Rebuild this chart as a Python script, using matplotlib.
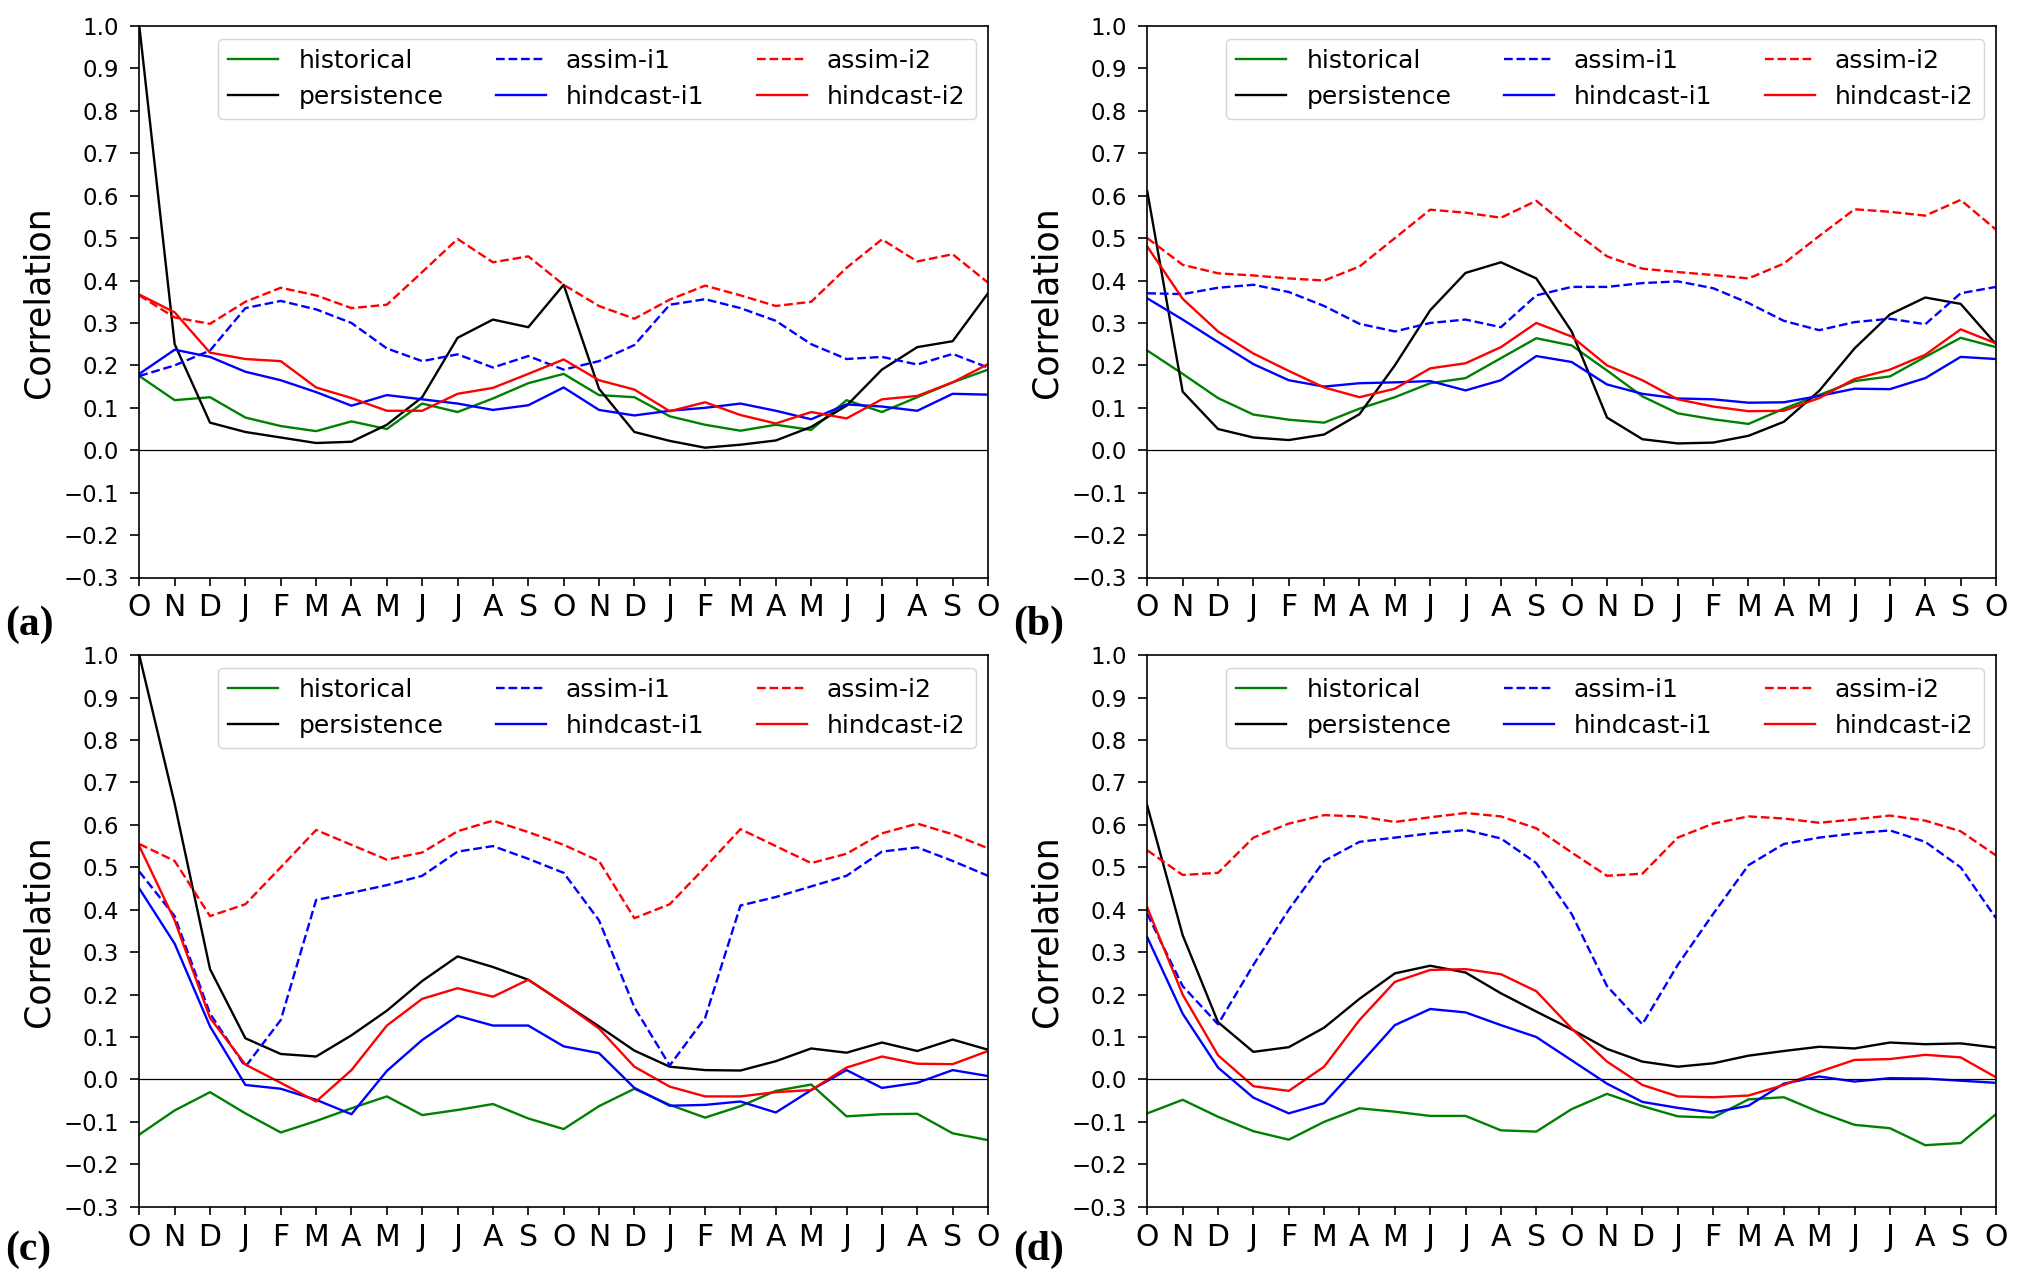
import matplotlib
matplotlib.use("Agg")
import matplotlib.pyplot as plt
import numpy as np

months = ["O", "N", "D", "J", "F", "M", "A", "M", "J", "J", "A", "S",
          "O", "N", "D", "J", "F", "M", "A", "M", "J", "J", "A", "S", "O"]
yticks = [-0.3, -0.2, -0.1, 0.0, 0.1, 0.2, 0.3, 0.4, 0.5, 0.6, 0.7, 0.8, 0.9, 1.0]
panel_labels = ["(a)", "(b)", "(c)", "(d)"]
series_names = ["historical", "persistence", "assim-i1", "hindcast-i1", "assim-i2", "hindcast-i2"]

# ---- panel (a)
a_historical = [0.175, 0.118, 0.125, 0.077, 0.057, 0.045, 0.068, 0.050, 0.110, 0.090, 0.122, 0.158, 0.180,
                0.130, 0.125, 0.080, 0.060, 0.046, 0.060, 0.048, 0.118, 0.090, 0.125, 0.160, 0.190]
a_persistence = [1.000, 0.250, 0.065, 0.043, 0.030, 0.017, 0.020, 0.060, 0.125, 0.265, 0.308, 0.290, 0.390,
                 0.145, 0.043, 0.022, 0.006, 0.013, 0.023, 0.055, 0.105, 0.190, 0.243, 0.257, 0.370]
a_assim_i1 = [0.175, 0.200, 0.235, 0.335, 0.352, 0.332, 0.300, 0.240, 0.210, 0.226, 0.195, 0.222, 0.190,
              0.210, 0.248, 0.343, 0.356, 0.335, 0.305, 0.250, 0.215, 0.220, 0.202, 0.227, 0.195]
a_hindcast_i1 = [0.180, 0.237, 0.220, 0.185, 0.165, 0.137, 0.105, 0.130, 0.120, 0.110, 0.095, 0.106, 0.148,
                 0.095, 0.082, 0.093, 0.100, 0.110, 0.093, 0.073, 0.108, 0.103, 0.093, 0.133, 0.131]
a_assim_i2 = [0.365, 0.313, 0.298, 0.350, 0.383, 0.365, 0.335, 0.343, 0.420, 0.498, 0.443, 0.457, 0.390,
              0.340, 0.310, 0.355, 0.388, 0.365, 0.340, 0.350, 0.430, 0.497, 0.445, 0.462, 0.395]
a_hindcast_i2 = [0.367, 0.325, 0.230, 0.215, 0.210, 0.148, 0.123, 0.093, 0.093, 0.133, 0.147, 0.180, 0.214,
                 0.165, 0.143, 0.092, 0.113, 0.083, 0.063, 0.090, 0.075, 0.120, 0.128, 0.160, 0.203]

# ---- panel (b)
b_historical = [0.235, 0.180, 0.123, 0.084, 0.072, 0.065, 0.098, 0.125, 0.158, 0.170, 0.217, 0.264, 0.247,
                0.188, 0.127, 0.087, 0.073, 0.062, 0.098, 0.130, 0.163, 0.174, 0.220, 0.265, 0.243]
b_persistence = [0.610, 0.138, 0.050, 0.030, 0.024, 0.037, 0.085, 0.200, 0.330, 0.418, 0.443, 0.405, 0.280,
                 0.077, 0.026, 0.016, 0.018, 0.034, 0.067, 0.140, 0.240, 0.320, 0.360, 0.345, 0.250]
b_assim_i1 = [0.370, 0.368, 0.383, 0.390, 0.373, 0.340, 0.298, 0.280, 0.300, 0.308, 0.290, 0.365, 0.385,
              0.385, 0.394, 0.398, 0.382, 0.347, 0.305, 0.283, 0.302, 0.310, 0.297, 0.370, 0.385]
b_hindcast_i1 = [0.358, 0.308, 0.255, 0.203, 0.165, 0.150, 0.158, 0.160, 0.163, 0.141, 0.165, 0.222, 0.208,
                 0.155, 0.133, 0.122, 0.120, 0.112, 0.113, 0.128, 0.145, 0.144, 0.170, 0.220, 0.215]
b_assim_i2 = [0.500, 0.437, 0.417, 0.412, 0.405, 0.400, 0.433, 0.500, 0.567, 0.560, 0.548, 0.588, 0.520,
              0.457, 0.428, 0.420, 0.413, 0.405, 0.440, 0.505, 0.568, 0.562, 0.553, 0.590, 0.520]
b_hindcast_i2 = [0.480, 0.357, 0.280, 0.228, 0.187, 0.148, 0.125, 0.145, 0.193, 0.205, 0.243, 0.300, 0.268,
                 0.200, 0.165, 0.120, 0.103, 0.092, 0.093, 0.123, 0.168, 0.190, 0.225, 0.285, 0.252]

# ---- panel (c)
c_historical = [-0.130, -0.073, -0.030, -0.080, -0.125, -0.098, -0.068, -0.040, -0.084, -0.072, -0.058, -0.092, -0.117,
                -0.063, -0.022, -0.060, -0.090, -0.063, -0.027, -0.012, -0.087, -0.082, -0.081, -0.127, -0.143]
c_persistence = [1.000, 0.650, 0.260, 0.097, 0.060, 0.054, 0.104, 0.162, 0.232, 0.290, 0.265, 0.235, 0.180,
                 0.125, 0.068, 0.030, 0.022, 0.021, 0.043, 0.073, 0.063, 0.087, 0.067, 0.094, 0.070]
c_assim_i1 = [0.490, 0.385, 0.155, 0.030, 0.140, 0.423, 0.440, 0.458, 0.480, 0.537, 0.550, 0.520, 0.487,
              0.375, 0.170, 0.033, 0.145, 0.410, 0.430, 0.455, 0.480, 0.537, 0.547, 0.515, 0.480]
c_hindcast_i1 = [0.450, 0.320, 0.125, -0.013, -0.022, -0.048, -0.082, 0.020, 0.093, 0.150, 0.127, 0.127, 0.078,
                 0.062, -0.020, -0.062, -0.060, -0.052, -0.078, -0.025, 0.022, -0.020, -0.008, 0.022, 0.008]
c_assim_i2 = [0.555, 0.515, 0.385, 0.413, 0.500, 0.588, 0.553, 0.518, 0.535, 0.585, 0.610, 0.583, 0.553,
              0.515, 0.380, 0.413, 0.500, 0.590, 0.550, 0.510, 0.532, 0.580, 0.603, 0.578, 0.545]
c_hindcast_i2 = [0.550, 0.375, 0.145, 0.035, -0.008, -0.052, 0.022, 0.127, 0.190, 0.215, 0.195, 0.235, 0.180,
                 0.120, 0.030, -0.017, -0.040, -0.040, -0.030, -0.025, 0.028, 0.054, 0.037, 0.036, 0.067]

# ---- panel (d)
d_historical = [-0.080, -0.048, -0.088, -0.122, -0.142, -0.100, -0.068, -0.076, -0.086, -0.086, -0.120, -0.123, -0.070,
                -0.034, -0.063, -0.087, -0.090, -0.047, -0.042, -0.077, -0.107, -0.115, -0.155, -0.150, -0.082]
d_persistence = [0.645, 0.340, 0.135, 0.065, 0.076, 0.122, 0.190, 0.250, 0.268, 0.252, 0.203, 0.160, 0.118,
                 0.072, 0.042, 0.030, 0.038, 0.056, 0.067, 0.077, 0.073, 0.087, 0.083, 0.085, 0.075]
d_assim_i1 = [0.390, 0.220, 0.130, 0.270, 0.400, 0.515, 0.560, 0.570, 0.580, 0.588, 0.568, 0.510, 0.390,
              0.220, 0.130, 0.270, 0.390, 0.505, 0.555, 0.570, 0.580, 0.587, 0.560, 0.500, 0.380]
d_hindcast_i1 = [0.335, 0.155, 0.028, -0.043, -0.080, -0.056, 0.035, 0.128, 0.166, 0.158, 0.128, 0.100, 0.045,
                 -0.010, -0.053, -0.067, -0.078, -0.062, -0.010, 0.007, -0.005, 0.003, 0.002, -0.003, -0.008]
d_assim_i2 = [0.540, 0.482, 0.487, 0.570, 0.603, 0.623, 0.620, 0.607, 0.618, 0.628, 0.620, 0.592, 0.535,
              0.480, 0.485, 0.570, 0.603, 0.620, 0.615, 0.605, 0.613, 0.622, 0.610, 0.585, 0.528]
d_hindcast_i2 = [0.405, 0.200, 0.057, -0.016, -0.027, 0.030, 0.140, 0.230, 0.258, 0.260, 0.248, 0.208, 0.120,
                 0.042, -0.013, -0.040, -0.042, -0.038, -0.013, 0.018, 0.046, 0.048, 0.058, 0.052, 0.005]

panels = [
    [a_historical, a_persistence, a_assim_i1, a_hindcast_i1, a_assim_i2, a_hindcast_i2],
    [b_historical, b_persistence, b_assim_i1, b_hindcast_i1, b_assim_i2, b_hindcast_i2],
    [c_historical, c_persistence, c_assim_i1, c_hindcast_i1, c_assim_i2, c_hindcast_i2],
    [d_historical, d_persistence, d_assim_i1, d_hindcast_i1, d_assim_i2, d_hindcast_i2],
]

colors = ["green", "black", "blue", "blue", "red", "red"]
styles = ["-", "-", "--", "-", "--", "-"]

W, H = 2025, 1278
fig = plt.figure(figsize=(W / 100, H / 100), dpi=100)

ax_w = 848.7 / W
ax_h = 551.5 / H
lefts = [139.3 / W, 1147.3 / W]
bottoms = [1 - 577.5 / H, 1 - 1206.7 / H]
label_pos = [(5, 625), (1013, 625), (5, 1250), (1013, 1250)]

x = np.arange(len(months))
for i, data in enumerate(panels):
    r, c = divmod(i, 2)
    ax = fig.add_axes([lefts[c], bottoms[r], ax_w, ax_h])
    for name, vals, col, ls in zip(series_names, data, colors, styles):
        ax.plot(x, vals, color=col, linestyle=ls, linewidth=1.7, label=name)
    ax.axhline(0.0, color="black", linewidth=0.9)
    ax.set_xlim(0, len(months) - 1)
    ax.set_ylim(-0.3, 1.0)
    ax.set_xticks(x)
    ax.set_xticklabels(months, fontsize=21.5)
    ax.set_yticks(yticks)
    ax.set_yticklabels([f"{v:.1f}".replace("-", "\u2212") for v in yticks], fontsize=16.5)
    ax.tick_params(axis="y", length=6.5, width=1.2, pad=8)
    ax.tick_params(axis="x", length=5.5, width=1.2, pad=6)
    for sp in ax.spines.values():
        sp.set_linewidth(1.2)
    ax.set_ylabel("Correlation", fontsize=25, labelpad=6)
    ax.legend(loc="upper right", ncol=3, fontsize=18, framealpha=0.8, columnspacing=2.1)
    lx, ly = label_pos[i]
    fig.text(lx / W, 1 - ly / H, panel_labels[i], fontsize=30, fontweight="bold",
             family="Liberation Serif", ha="left", va="center")

fig.savefig("out.png", dpi=100)
